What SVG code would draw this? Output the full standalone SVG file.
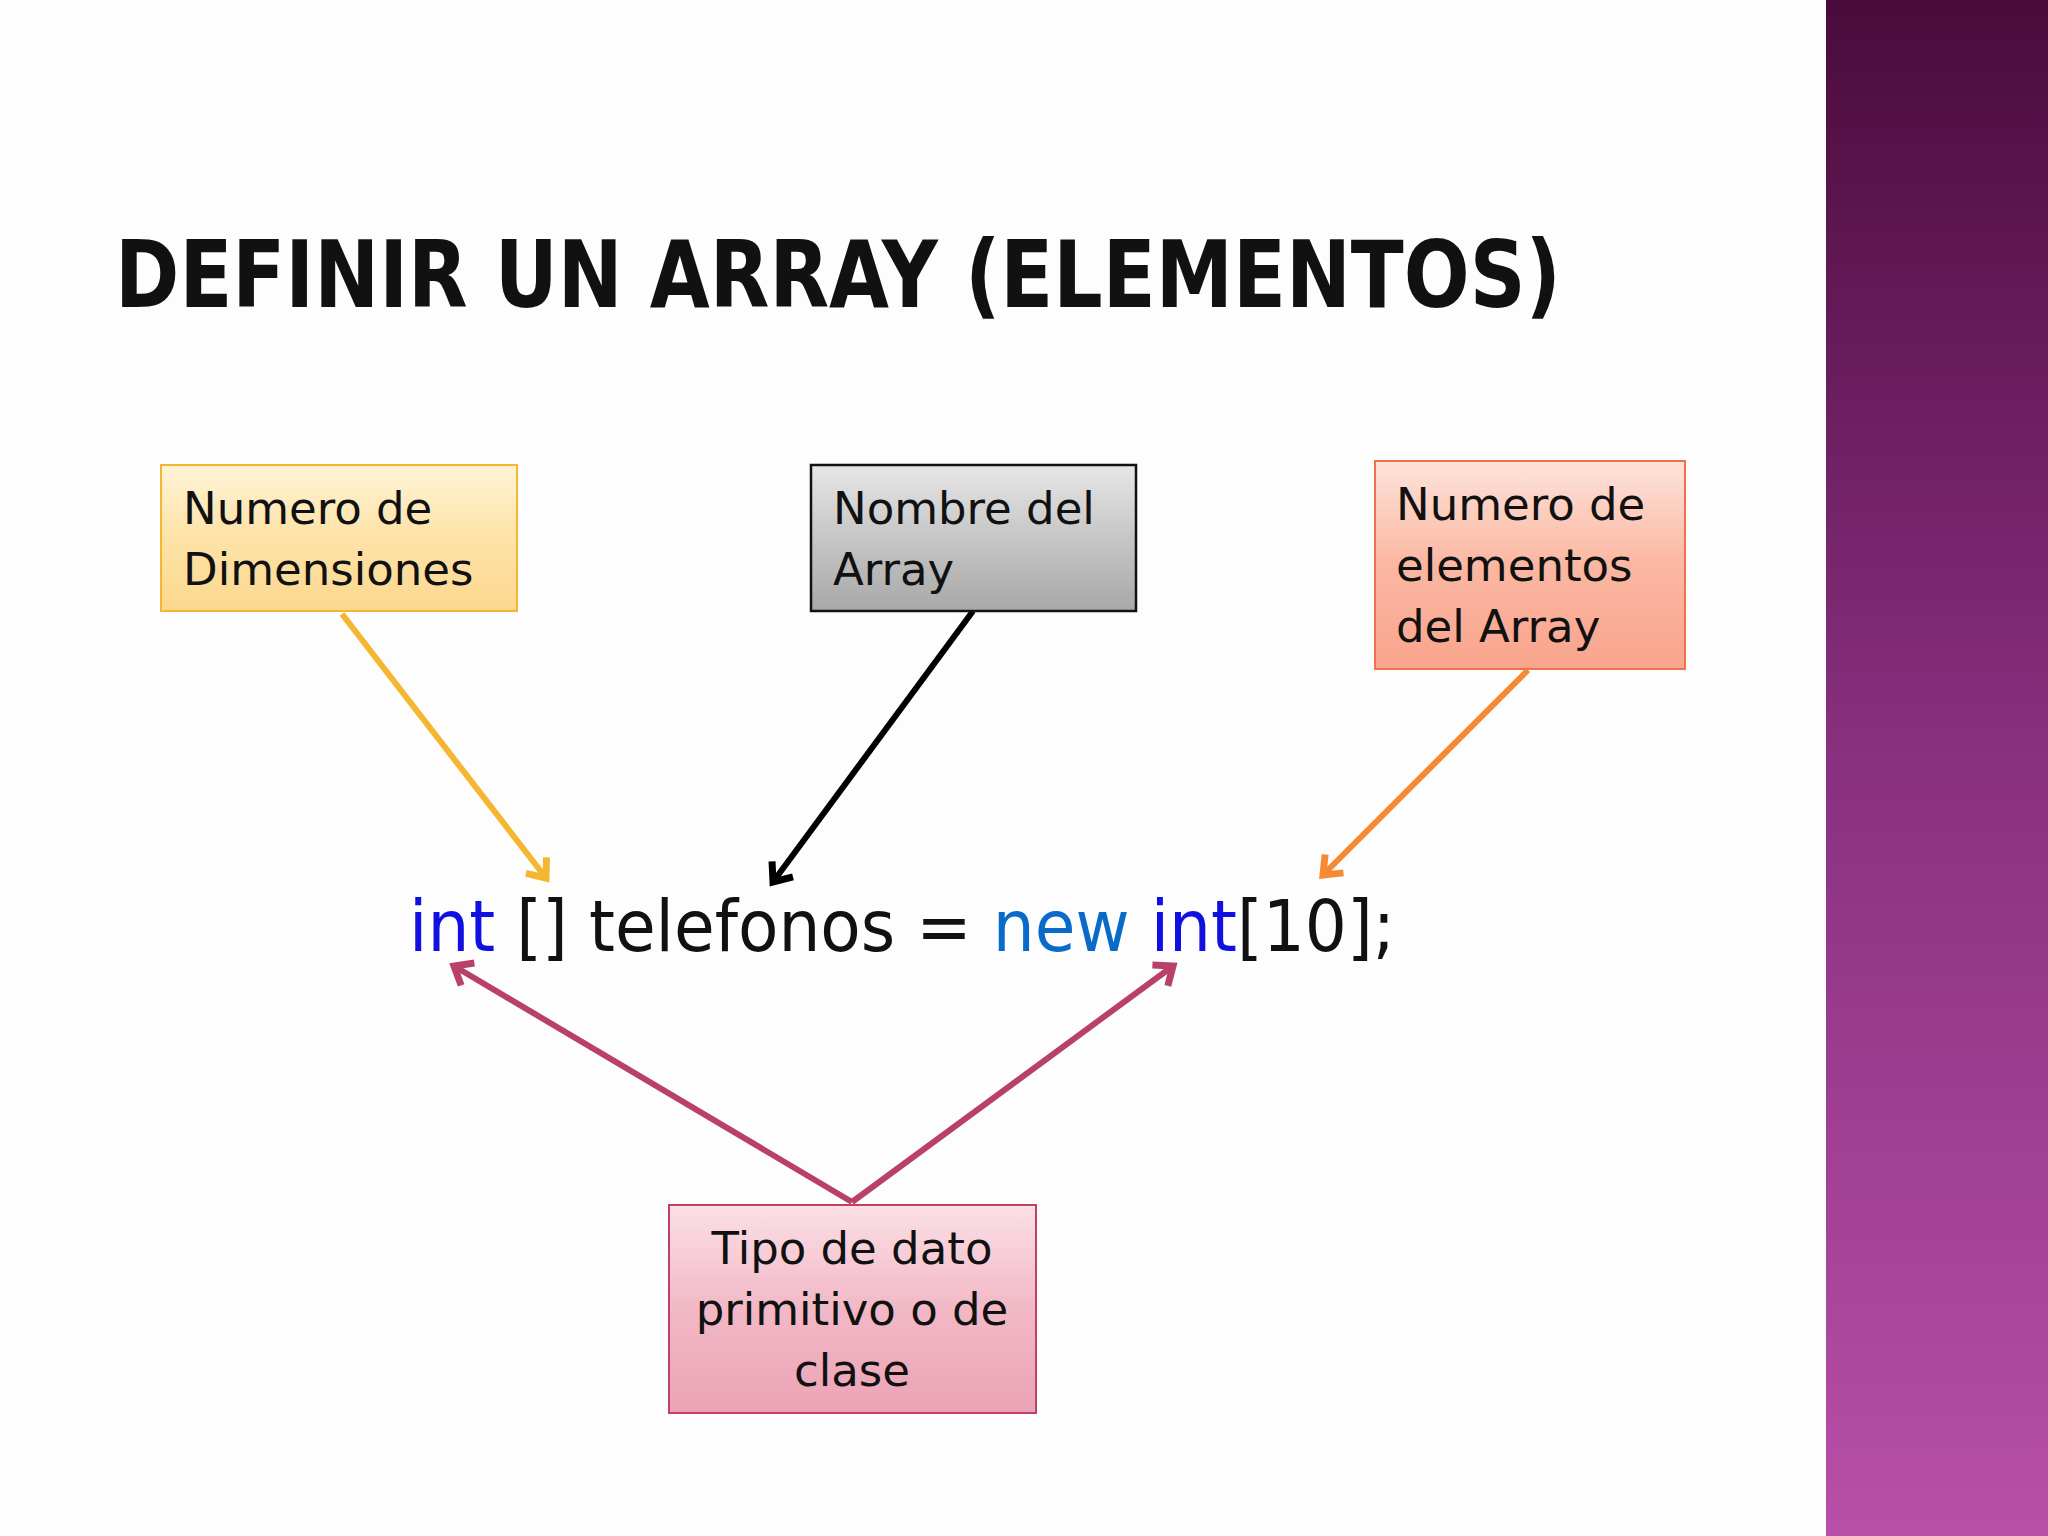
<svg xmlns="http://www.w3.org/2000/svg" width="2048" height="1536" viewBox="0 0 2048 1536">
<defs>
<linearGradient id="bar" x1="0" y1="0" x2="0" y2="1"><stop offset="0" stop-color="#4a0b3c"/><stop offset="0.5" stop-color="#8a3080"/><stop offset="1" stop-color="#b84fa8"/></linearGradient>
<linearGradient id="gy" x1="0" y1="0" x2="0" y2="1"><stop offset="0" stop-color="#fff3d6"/><stop offset="0.5" stop-color="#fde2a8"/><stop offset="1" stop-color="#fcd88e"/></linearGradient>
<linearGradient id="gg" x1="0" y1="0" x2="0" y2="1"><stop offset="0" stop-color="#e6e6e6"/><stop offset="0.5" stop-color="#c6c6c6"/><stop offset="1" stop-color="#a8a8a8"/></linearGradient>
<linearGradient id="go" x1="0" y1="0" x2="0" y2="1"><stop offset="0" stop-color="#fde3da"/><stop offset="0.5" stop-color="#fbb7a2"/><stop offset="1" stop-color="#f9a48c"/></linearGradient>
<linearGradient id="gp" x1="0" y1="0" x2="0" y2="1"><stop offset="0" stop-color="#fbe0e6"/><stop offset="0.5" stop-color="#f2b8c6"/><stop offset="1" stop-color="#eba3b5"/></linearGradient>
<marker id="my" viewBox="-20 -20 40 40" refX="0" refY="0" markerWidth="40" markerHeight="40" orient="auto" markerUnits="userSpaceOnUse"><path d="M-16,-13 L0,0 L-16,13" fill="none" stroke="#f5b731" stroke-width="7"/></marker>
<marker id="mk" viewBox="-20 -20 40 40" refX="0" refY="0" markerWidth="40" markerHeight="40" orient="auto" markerUnits="userSpaceOnUse"><path d="M-16,-13 L0,0 L-16,13" fill="none" stroke="#000" stroke-width="7"/></marker>
<marker id="mo" viewBox="-20 -20 40 40" refX="0" refY="0" markerWidth="40" markerHeight="40" orient="auto" markerUnits="userSpaceOnUse"><path d="M-16,-13 L0,0 L-16,13" fill="none" stroke="#f58a35" stroke-width="7"/></marker>
<marker id="mp" viewBox="-20 -20 40 40" refX="0" refY="0" markerWidth="40" markerHeight="40" orient="auto" markerUnits="userSpaceOnUse"><path d="M-16,-13 L0,0 L-16,13" fill="none" stroke="#b9406a" stroke-width="7"/></marker>
</defs>
<style>
.t{font-family:"DejaVu Sans","Open Sans",sans-serif;font-size:45px;fill:#111}
.c{font-family:"DejaVu Sans","Open Sans",sans-serif;font-size:72px;fill:#111}
</style>
<rect width="2048" height="1536" fill="#fdfdfd"/>
<rect x="1826" y="0" width="222" height="1536" fill="url(#bar)"/>
<text x="115" y="307" font-family="'DejaVu Sans',sans-serif" font-weight="bold" font-size="92" fill="#111" textLength="1446" lengthAdjust="spacingAndGlyphs">DEFINIR UN ARRAY (ELEMENTOS)</text>
<g id="connectors" fill="none" stroke-width="6">
<line x1="342" y1="614" x2="546" y2="878" stroke="#f5b731" marker-end="url(#my)"/>
<line x1="973" y1="611" x2="773" y2="882" stroke="#000" marker-end="url(#mk)"/>
<line x1="1528" y1="670" x2="1323" y2="875" stroke="#f58a35" marker-end="url(#mo)"/>
<line x1="852" y1="1202" x2="454" y2="966" stroke="#b9406a" marker-end="url(#mp)"/>
<line x1="852" y1="1202" x2="1173" y2="966" stroke="#b9406a" marker-end="url(#mp)"/>
</g>
<g id="dim"><rect x="161" y="465" width="356" height="146" fill="url(#gy)" stroke="#f5b731" stroke-width="2"/><text class="t" x="183" y="524">Numero de</text><text class="t" x="183" y="585">Dimensiones</text></g>
<g id="nombre"><rect x="811" y="465" width="325" height="146" fill="url(#gg)" stroke="#111" stroke-width="2.5"/><text class="t" x="833" y="524">Nombre del</text><text class="t" x="833" y="585">Array</text></g>
<g id="elementos"><rect x="1375" y="461" width="310" height="208" fill="url(#go)" stroke="#f07050" stroke-width="2"/><text class="t" x="1396" y="520">Numero de</text><text class="t" x="1396" y="581">elementos</text><text class="t" x="1396" y="642">del Array</text></g>
<g id="tipo"><rect x="669" y="1205" width="367" height="208" fill="url(#gp)" stroke="#c0406a" stroke-width="2"/><text class="t" x="852" y="1264" text-anchor="middle">Tipo de dato</text><text class="t" x="852" y="1325" text-anchor="middle">primitivo o de</text><text class="t" x="852" y="1386" text-anchor="middle">clase</text></g>
<g id="code"><text class="c" x="409" y="951" textLength="986" lengthAdjust="spacingAndGlyphs"><tspan fill="#1010e0">int</tspan> [] telefonos = <tspan fill="#0a6ac8">new</tspan> <tspan fill="#1010e0">int</tspan>[10];</text></g>
</svg>
